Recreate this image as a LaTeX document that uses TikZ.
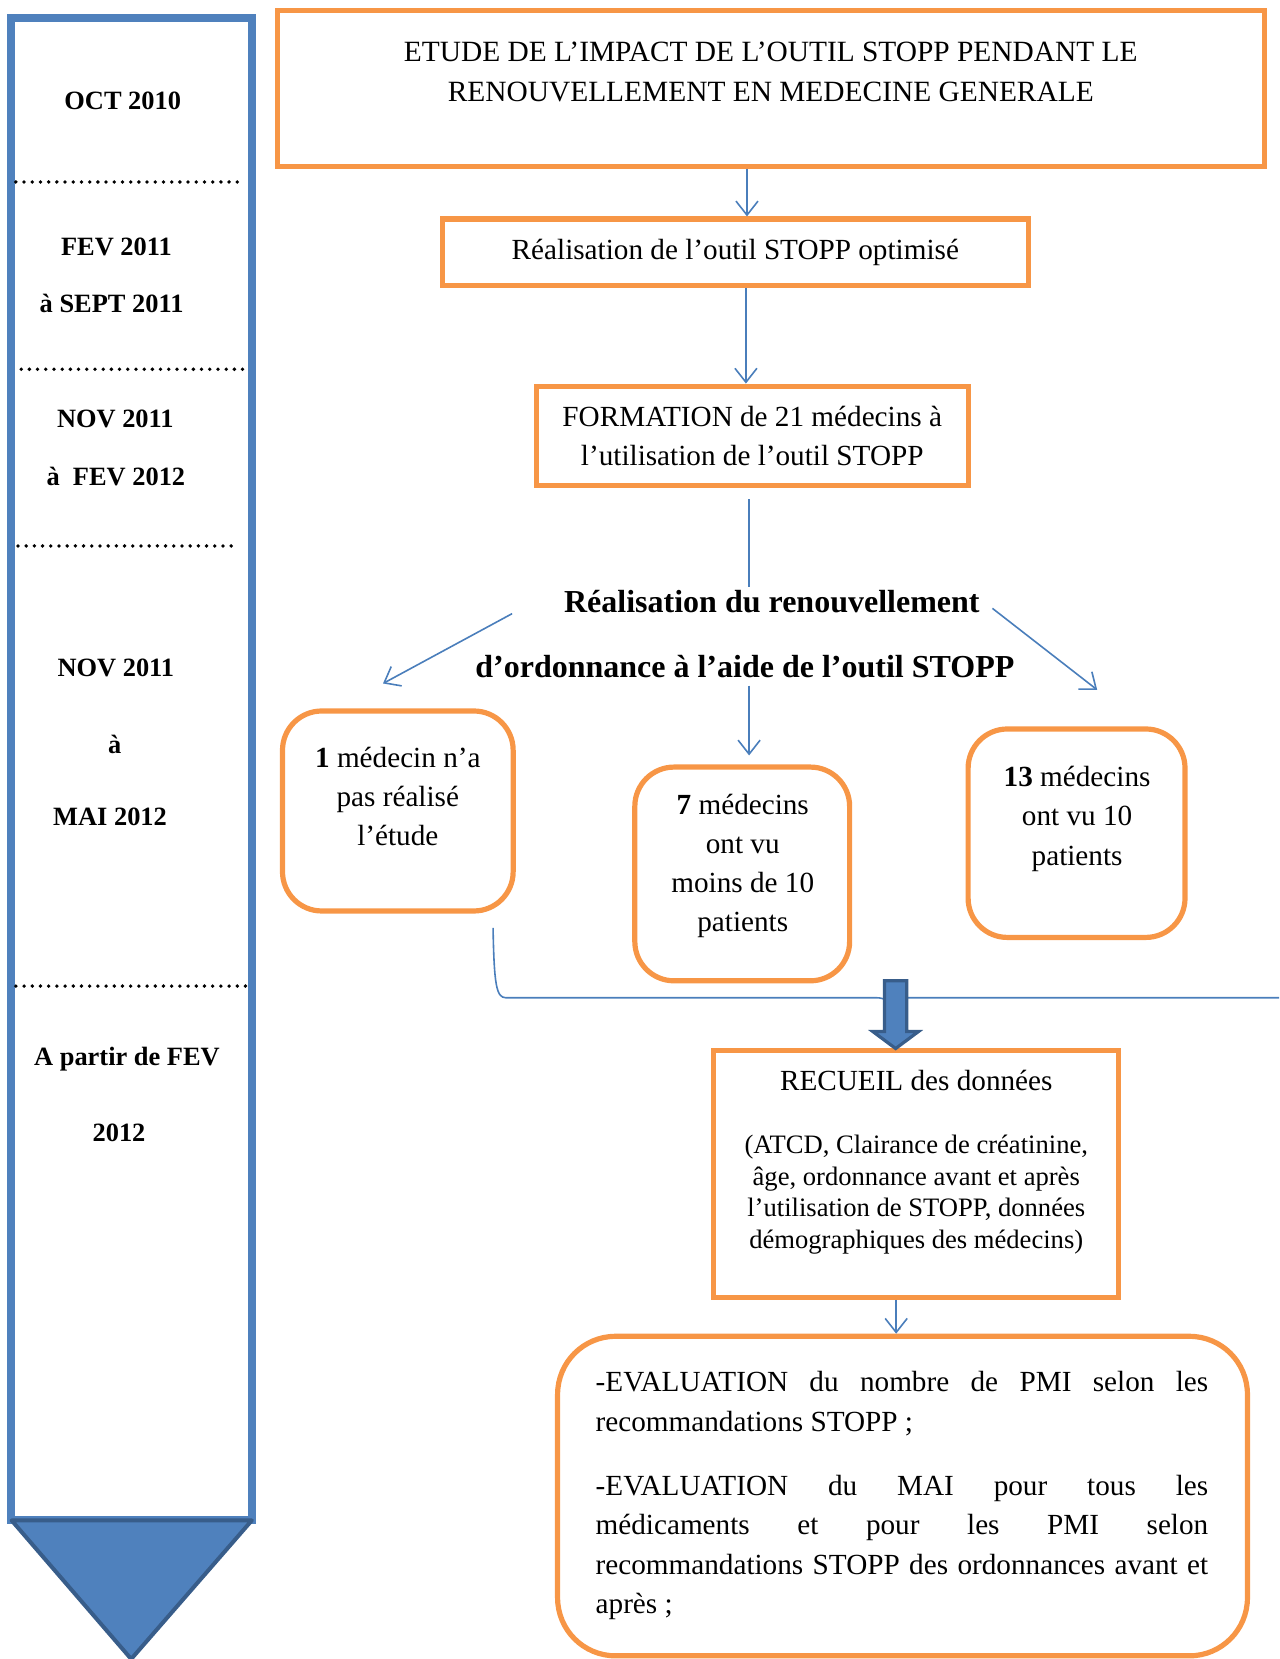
\documentclass[tikz,border=0pt]{standalone}
\usepackage{fontspec}
\setmainfont{Liberation Serif}
\usetikzlibrary{arrows.meta}
\newlength{\uu}\setlength{\uu}{0.529pt}
\definecolor{orng}{HTML}{F79646}
\definecolor{blu}{HTML}{4F81BD}
\definecolor{bludk}{HTML}{385D8A}
\definecolor{lineblu}{HTML}{4A7EBB}
\begin{document}
\begin{tikzpicture}[x=\uu,y=-\uu,
  obox/.style={draw=orng, line width=2.6pt, inner sep=0pt},
  rbox/.style={obox, rounded corners=19.6pt},
  conn/.style={draw=lineblu, line width=0.8pt},
  arr/.style={conn, -{Straight Barb[length=7pt,width=11pt]}},
  tl/.style={font=\fontsize{13.2}{16}\selectfont\bfseries, inner sep=0pt},
  txt/.style={font=\fontsize{14.6}{19.6}\selectfont, align=center, inner sep=0pt},
  ttl/.style={font=\fontsize{16}{19}\selectfont\bfseries, inner sep=0pt},
  dotline/.style={line width=1.9pt, dash pattern=on 0pt off 4.1pt, line cap=round}]
\useasboundingbox (0,0) rectangle (1209,1568);

% ---- timeline
\draw[draw=blu, line width=4pt, fill=white] (10,17) rectangle (238,1437);
\fill[blu, draw=bludk, line width=2pt, line join=round] (11,1437) -- (238,1437) -- (124,1568) -- cycle;
\draw[dotline] (15,172) -- (225,172);
\draw[dotline] (20,349) -- (232,349);
\draw[dotline] (17,516) -- (225,516);
\draw[dotline] (15,932) -- (233,932);

\node[tl] (t1) at (116,95) {OCT 2010};
\node[tl] (t2) at (110,233) {FEV 2011};
\node[tl] (t3) at (105.5,287) {à SEPT 2011};
\node[tl] (t4) at (109,396) {NOV 2011};
\node[tl] (t5) at (109.5,450) {à\ \ FEV 2012};
\node[tl] (t6) at (109.5,631) {NOV 2011};
\node[tl] (t7) at (108.5,704) {à};
\node[tl] (t8) at (104,772) {MAI 2012};
\node[tl] (t9) at (120,1001) {A partir de FEV};
\node[tl] (t10) at (112.5,1071) {2012};

% ---- flow
\node[obox, minimum width=933\uu, minimum height=147\uu] (top) at (728.5,83.5) {};
\node[txt, font=\fontsize{14.7}{20.1}\selectfont] (toptxt) at (728.5,68)
  {ETUDE DE L’IMPACT DE L’OUTIL STOPP PENDANT LE\\RENOUVELLEMENT EN MEDECINE GENERALE};

\node[obox, txt, minimum width=554\uu, minimum height=63\uu] (b2) at (695,238.5) {Réalisation de l’outil STOPP optimisé};
\node[obox, txt, minimum width=408\uu, minimum height=94\uu] (b3) at (711,412) {FORMATION de 21 médecins à\\l’utilisation de l’outil STOPP};

\coordinate (x706) at (706,0);
\coordinate (x705) at (705,0);
\draw[arr] (top.south -| x706) -- (b2.north -| x706);
\draw[arr] (b2.south -| x705) -- (b3.north -| x705);

\node[ttl] (r1) at (729.5,569) {Réalisation du renouvellement};
\node[ttl] (r2) at (704,630) {d’ordonnance à l’aide de l’outil STOPP};

\coordinate (c1) at (708,472);
\coordinate (c2) at (708,555);
\draw[conn] (c1) -- (c2);

\coordinate (la) at (484,580);
\coordinate (lb) at (362,646);
\coordinate (ra) at (938,575);
\coordinate (rb) at (1037,652);
\coordinate (ma) at (708,648);
\coordinate (mb) at (708,714);
\draw[arr] (la) -- (lb);
\draw[arr] (ra) -- (rb);
\draw[arr] (ma) -- (mb);

\node[rbox, minimum width=218\uu, minimum height=189\uu] (n1) at (376,766.5) {};
\node[txt] (n1t) at (376,753) {\textbf{1} médecin n’a\\pas réalisé\\l’étude};
\node[rbox, minimum width=203\uu, minimum height=202\uu] (n2) at (701.5,826) {};
\node[txt] (n2t) at (702,818.5) {\textbf{7} médecins\\ont vu\\moins de 10\\patients};
\node[rbox, minimum width=205\uu, minimum height=197\uu] (n3) at (1017.5,787.5) {};
\node[txt] (n3t) at (1018,774) {\textbf{13} médecins\\ont vu 10\\patients};

% brace
\coordinate (br1) at (466,877);
\coordinate (br2) at (1209,943);
\draw[conn] (br1) .. controls (467,930) and (469,943) .. (478,943) -- (828,943)
  .. controls (836,943) and (842,946) .. (846,958)
  .. controls (849,947) and (852,943) .. (858,943) -- (br2);

% block arrow
\node[obox, minimum width=383\uu, minimum height=233\uu] (rec) at (865.5,1109.5) {};
\fill[blu, draw=bludk, line width=1.6pt, line join=miter]
  (836,927) -- (857,927) -- (857,975) -- (868,975) -- (846.5,991) -- (825,975) -- (836,975) -- cycle;
\node[txt] (rect) at (866,1021) {RECUEIL des données};
\node[font=\fontsize{13.3}{15.9}\selectfont, align=center, inner sep=0pt] (recp) at (866,1129)
  {(ATCD, Clairance de créatinine,\\âge, ordonnance avant et après\\l’utilisation de STOPP, données\\démographiques des médecins)};

\node[rbox, rounded corners=29pt, minimum width=652\uu, minimum height=302\uu] (big) at (853,1414) {};
\coordinate (x847) at (847,0);
\draw[arr] (rec.south -| x847) -- (big.north -| x847);

\node[font=\fontsize{14.6}{19.6}\selectfont, text width=579\uu, align=justify, inner sep=0pt] (bigt) at (852.5,1413.5)
  {\hyphenpenalty=10000 -EVALUATION du nombre de PMI selon les\linebreak recommandations STOPP ;\par\vspace{12.7pt}%
   -EVALUATION du MAI pour tous les\linebreak médicaments et pour les PMI selon\linebreak recommandations STOPP des ordonnances avant et\linebreak après ;};
\end{tikzpicture}
\end{document}
